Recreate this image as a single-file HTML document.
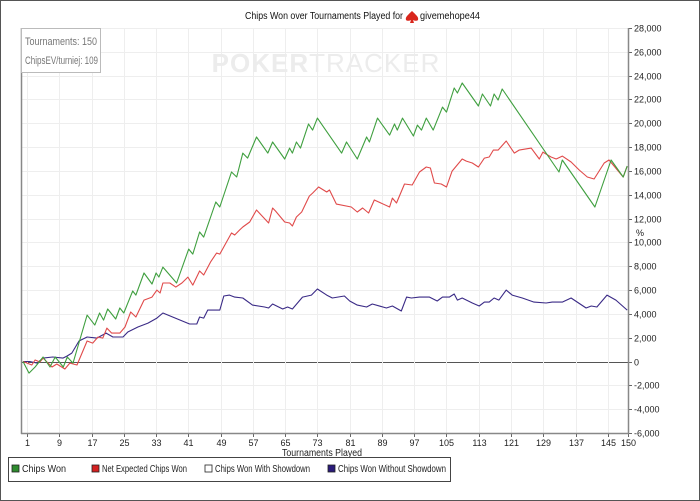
<!DOCTYPE html>
<html><head><meta charset="utf-8">
<style>
html,body{margin:0;padding:0;background:#fff;}
body{width:700px;height:501px;overflow:hidden;font-family:"Liberation Sans",sans-serif;}
svg{display:block;}
</style></head>
<body>
<svg id="chart" width="700" height="501" viewBox="0 0 700 501">
<rect x="0.5" y="0.5" width="699" height="500" fill="#fff" stroke="#555"/>
<text x="245" y="19" font-size="10" fill="#111" textLength="158" lengthAdjust="spacingAndGlyphs">Chips Won over Tournaments Played for</text>
<path d="M412 11 C408 15 405 17 406 20 C407 21 409 21 411 20 L410 23 L414 23 L413 20 C415 21 417 21 418 20 C419 17 416 15 412 11Z" fill="#d9261c"/>
<text x="420" y="19" font-size="10" fill="#111" textLength="60" lengthAdjust="spacingAndGlyphs">givemehope44</text>
<g id="grid"></g>
<text x="326" y="72" font-size="26" font-weight="bold" fill="#ececec" text-anchor="middle" letter-spacing="1">POKER<tspan font-weight="normal">TRACKER</tspan></text>
<g id="series"></g>
<g id="axes"></g>
<rect x="21.5" y="28.5" width="79" height="44" fill="#fff" stroke="#bbb"/>
<text x="25" y="45" font-size="11" fill="#777" textLength="72" lengthAdjust="spacingAndGlyphs">Tournaments: 150</text>
<text x="25" y="64" font-size="11" fill="#777" textLength="73" lengthAdjust="spacingAndGlyphs">ChipsEV/turniej: 109</text>
<text x="282" y="456" font-size="10" fill="#222" textLength="80" lengthAdjust="spacingAndGlyphs">Tournaments Played</text>
<text x="636" y="236" font-size="9" fill="#222">%</text>
<g>
<rect x="8.5" y="457.5" width="442" height="24" fill="#fff" stroke="#444"/>
<g><rect x="12" y="465" width="7" height="7" fill="#2e8b2e" stroke="#222" stroke-width="0.8"/><text x="22" y="472" font-size="10" fill="#222" textLength="44" lengthAdjust="spacingAndGlyphs">Chips Won</text></g>
<g><rect x="92" y="465" width="7" height="7" fill="#d42020" stroke="#222" stroke-width="0.8"/><text x="102" y="472" font-size="10" fill="#222" textLength="85" lengthAdjust="spacingAndGlyphs">Net Expected Chips Won</text></g>
<g><rect x="205" y="465" width="7" height="7" fill="#fff" stroke="#222" stroke-width="0.8"/><text x="215" y="472" font-size="10" fill="#222" textLength="95" lengthAdjust="spacingAndGlyphs">Chips Won With Showdown</text></g>
<g><rect x="328" y="465" width="7" height="7" fill="#2a1a7a" stroke="#222" stroke-width="0.8"/><text x="338" y="472" font-size="10" fill="#222" textLength="108" lengthAdjust="spacingAndGlyphs">Chips Won Without Showdown</text></g>
</g>
</svg>
<script>
const xTicks=[1,9,17,25,33,41,49,57,65,73,81,89,97,105,113,121,129,137,145,150];
const yTicks=[-6000,-4000,-2000,0,2000,4000,6000,8000,10000,12000,14000,16000,18000,20000,22000,24000,26000,28000];
const greenT=[0,1.5,3,5,6.7,8,10,11,12.4,15.9,17.8,19,20,21,23,24,25,27.2,28,30,32,33,33.7,34.7,38.1,41.1,42.1,43.8,44.8,47.8,48.8,51.7,53,54.5,55.7,57.9,60.7,61.9,64.9,66.1,66.8,67.8,68.8,70.8,71.8,73,79,80.2,82.9,85.2,85.9,87.9,90.9,92.1,92.8,94.1,96.8,97.8,98.8,100,101.7,104,105,106.9,107.7,108.9,112.9,113.9,115.9,116.8,117.8,118.8,132.9,133.7,141.8,145.8,148.8,149.8];
const greenV=[0,-970,-460,380,-460,380,-460,380,-130,3900,3060,4070,3480,4410,3570,4490,4070,5920,5580,7430,6510,7430,7090,7930,6590,9440,9020,10870,10450,13390,12970,15910,15490,17500,17080,18850,17500,18430,17000,17920,17500,18430,17920,19940,19430,20440,17500,18430,17000,18850,18430,20440,19010,19940,19430,20440,18930,19850,19430,20440,19430,21360,20940,22960,22540,23380,21450,22460,21450,22460,21950,22880,15910,16920,12970,16920,15490,16410];
const redT=[0,2.2,3,4.2,5,7.2,8.4,10.4,11.6,13.4,15.9,17.3,18.6,19.8,20.8,22,24,25.3,26.7,28,30,32,33.2,34,34.7,36.4,37.9,39.4,40.9,42.1,43.8,44.8,46.5,48,48.8,51.7,52.5,53.7,54.5,56.2,57.9,60.9,61.9,62.6,64.9,66.1,66.8,67.8,69.1,71,71.8,73.3,75.3,76,77.7,81.4,82.9,84.2,85.7,87.1,90.9,91.6,92.6,94.6,96.5,98.3,100,101,102,103.7,105,106.4,108.9,109.9,111.4,112.9,114.4,115.6,116.6,117.8,119.8,121.8,123,126,128,128.9,130.9,132.2,133.7,135.9,137.9,139.9,141.6,144.1,145.3,148.8,149.8];
const redV=[0,-290,130,-40,290,-460,-210,-630,-130,-290,1720,1550,2060,1970,2810,2390,2390,2900,4160,3740,5160,5410,6000,5750,6590,6590,6250,6590,7090,6420,7600,7260,8350,9110,9020,10790,10620,11040,11290,11710,12720,11630,12890,12640,11710,11630,11380,12130,12550,13890,14140,14650,14230,14400,13220,12970,12550,12890,12470,13560,12970,13720,13310,14900,14820,15910,16330,16250,14990,14900,14650,15990,17000,16830,16670,16330,17080,17170,17750,17750,18510,17500,17750,17920,17000,17580,17170,17000,17250,16750,16080,15490,15320,16670,16920,15490,16410];
const purpleT=[0,1.7,3.5,5,7.4,9.9,10.9,12.1,13.9,15.9,18.3,20.6,22.3,24.8,26,28.5,31,33.2,34.7,37.1,41.3,43.1,43.8,44.8,45.8,48.8,49.8,51.2,52.5,54.5,56.9,59.9,60.9,61.9,64.4,65.6,66.8,69.3,71.5,73,75.3,76.7,79.7,81,82.9,85.2,86.6,90.1,91.6,93.8,95.1,96.3,98.3,100.8,102.7,104,105.7,106.9,107.7,108.9,111.4,113.1,114.4,115.6,116.8,118,119.8,121.3,123.8,126.7,129.7,131.2,133.7,135.9,139.6,140.9,142.3,144.8,147,149.8];
const purpleV=[0,0,-130,290,380,290,460,710,1720,2060,1970,2390,2060,2060,2480,2900,3230,3650,4070,3740,3150,3150,3740,3650,4320,4320,5500,5580,5410,5330,4740,4580,4490,4830,4410,4580,4410,5410,5580,6090,5580,5330,5500,5080,4740,4580,4830,4490,4660,4240,5410,5330,5410,5410,5080,5410,5410,5670,5160,5330,4910,4660,4990,4990,5330,5160,6000,5580,5330,4990,4910,4990,4990,5330,4490,4660,4580,5580,5160,4320];

const L=21,R=628,T=28,B=433;
function xs(t){return 27+(t-1)*(601/149);}
function ys(v){return T+(28000-v)/34000*(B-T);}
const NS="http://www.w3.org/2000/svg";
const grid=document.getElementById('grid'),axes=document.getElementById('axes'),ser=document.getElementById('series');
function mk(tag,attrs,parent){const e=document.createElementNS(NS,tag);for(const k in attrs)e.setAttribute(k,attrs[k]);parent.appendChild(e);return e;}
yTicks.forEach(v=>{
  const y=Math.round(ys(v))+0.5;
  const g=mk('line',{x1:L,x2:R,y1:y,y2:y,stroke:v===0?'#555':'#eeeeee','stroke-width':1},grid);
  
  
  const tk=mk('line',{x1:R,x2:R+4,y1:y,y2:y,stroke:'#666'},axes);
  
  
  const lb=mk('text',{x:R+6,y:y+3,'font-size':9,fill:'#222'},axes);
  lb.textContent=v.toLocaleString('en-US');
  
  
});
xTicks.forEach(t=>{
  const x=Math.round(xs(t))+0.5;
  const g=mk('line',{x1:x,x2:x,y1:T,y2:B,stroke:'#eeeeee'},grid);
  
  
  const tk=mk('line',{x1:x,x2:x,y1:B,y2:B+4,stroke:'#666'},axes);
  
  
  const lb=mk('text',{x:x,y:B+13,'font-size':9,fill:'#222','text-anchor':'middle'},axes);
  lb.textContent=t;
  
  
});
const ax1=mk('line',{x1:L+0.5,x2:L+0.5,y1:T,y2:B+1,stroke:'#888','stroke-width':1.5},axes);


const ax2=mk('line',{x1:R+0.5,x2:R+0.5,y1:T,y2:B+1,stroke:'#888','stroke-width':1.5},axes);


const ax3=mk('line',{x1:L,x2:R+1,y1:B+0.5,y2:B+0.5,stroke:'#888','stroke-width':1.5},axes);


function line(ts,vs,color,name){
  const d=ts.map((t,i)=>(i?'L':'M')+xs(t).toFixed(1)+' '+ys(vs[i]).toFixed(1)).join(' ');
  const p=mk('path',{d:d,fill:'none',stroke:color,'stroke-width':1.1,'stroke-linejoin':'round'},ser);
  
  
}
line(purpleT,purpleV,'#3a2a86','series-chips-won-without-showdown');
line(redT,redV,'#e04a4a','series-net-expected-chips-won');
line(greenT,greenV,'#3f9f3f','series-chips-won');
</script>
</body></html>
